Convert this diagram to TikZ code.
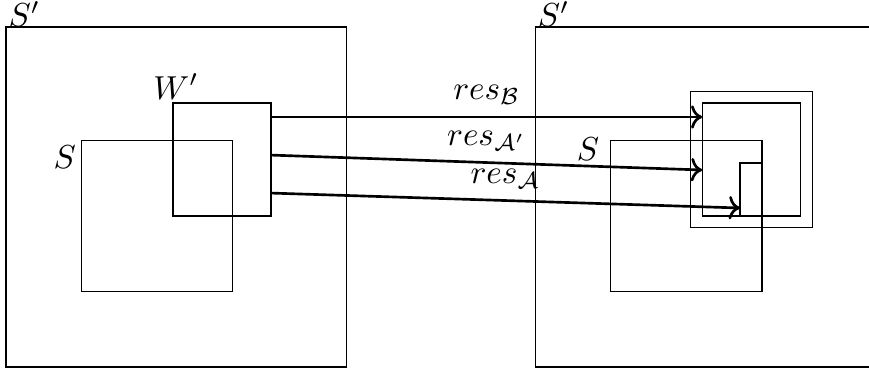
\documentclass[tikz,border=0pt]{standalone}
\usetikzlibrary{arrows.meta}

\begin{document}
\begin{tikzpicture}[x=1cm,y=1cm]
\useasboundingbox (-0.0635,-0.0635) rectangle (9.132,3.884);
\draw (0,0) rectangle (3.6,3.6);
\draw (0.8,0.8) rectangle (2.4,2.4);
\draw (1.767,1.598) rectangle (2.804,2.794);
\draw (5.6,0) rectangle (9.2,3.6);
\draw (6.4,0.8) rectangle (8.0,2.4);
\draw (7.245,1.478) rectangle (8.533,2.914);
\draw (7.367,1.598) rectangle (8.404,2.794);
\draw (7.767,1.598) rectangle (8.0,2.159);
\node[anchor=south west, inner sep=0pt] (lSpL) at (0.02,3.6) {$S'$};
\node[anchor=south west, inner sep=0pt] (lSpR) at (5.62,3.6) {$S'$};
\node[anchor=south, inner sep=1pt] (lWp) at (1.80,2.794) {$W'$};
\node[anchor=north east, inner sep=1.5pt] (lSL) at (0.8,2.4) {$S$};
\node[anchor=east] (lSR) at (6.4,2.31) {$S$};
\coordinate (fromB) at (2.804,2.646);
\coordinate (toB) at (7.367,2.646);
\coordinate (fromAp) at (2.804,2.243);
\coordinate (toAp) at (7.367,2.085);
\coordinate (fromA) at (2.804,1.841);
\coordinate (toA) at (7.767,1.683);
\draw[thick,->] (fromB) -- node[above] (lresB) {$res_{\mathcal{B}}$} (toB);
\draw[thick,->] (fromAp) -- node[above] (lresAp) {$res_{\mathcal{A}'}$} (toAp);
\draw[thick,->] (fromA) -- node[above] (lresA) {$res_{\mathcal{A}}$} (toA);
\end{tikzpicture}
\end{document}
